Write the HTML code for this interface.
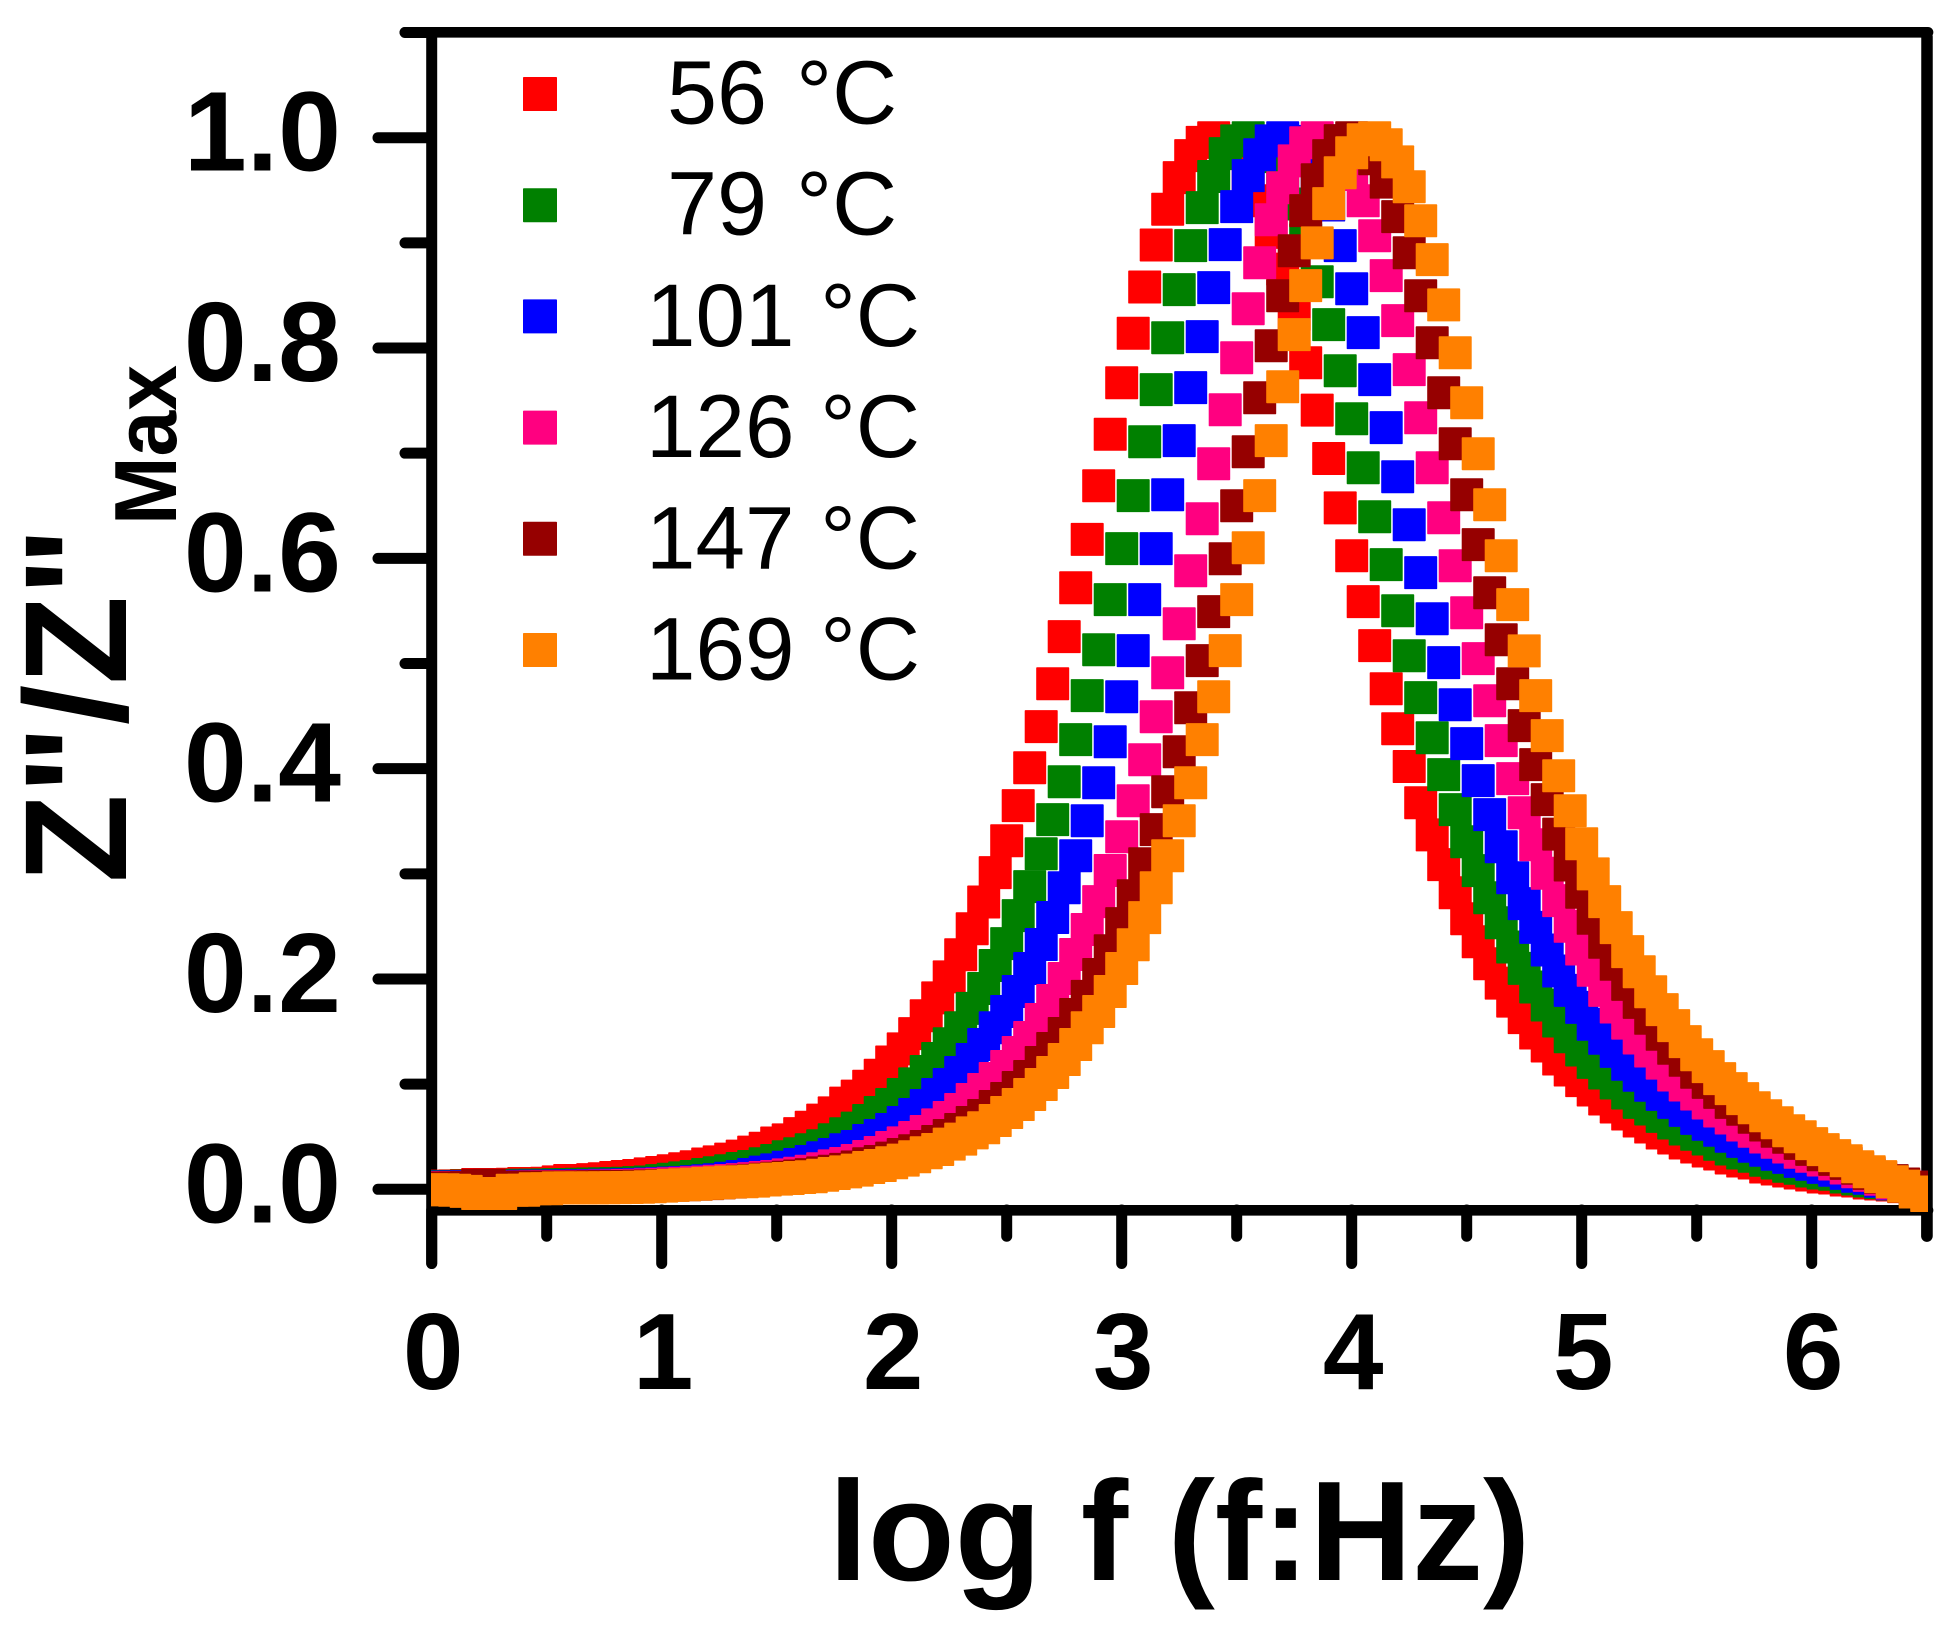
<!DOCTYPE html>
<html lang="en">
<head>
<meta charset="utf-8">
<title>Normalized Z'' versus log f</title>
<style>
html,body{margin:0;padding:0;background:#fff;width:1959px;height:1639px;overflow:hidden}
svg{display:block}
text{font-family:"Liberation Sans",Arial,sans-serif;fill:#000}
.b{font-weight:700}
</style>
</head>
<body>
<svg id="chart" xmlns="http://www.w3.org/2000/svg" width="1959" height="1639" viewBox="0 0 1959 1639">
<defs><clipPath id="plot-clip"><rect x="431" y="0" width="1497" height="1639"/></clipPath></defs>
<rect x="0" y="0" width="1959" height="1639" fill="#fff"/>
<g id="axes"></g>
<g id="series" clip-path="url(#plot-clip)"></g>
<g id="legend"></g>
<text class="b" x="828.5" y="1580" font-size="142">log f (f:Hz)</text>
<text class="b" transform="translate(126,883) rotate(-90)" font-size="145.5">Z"/Z"</text>
<text class="b" transform="translate(176,525) rotate(-90)" font-size="88" textLength="160" lengthAdjust="spacingAndGlyphs">Max</text>
</svg>
<script>
const logF = [
0,.05,.1,.15,.2,.25,.3,.35,.4,.45,.5,.55,.6,.65,.7,.75,.8,.85,.9,.95,
1,1.05,1.1,1.15,1.2,1.25,1.3,1.35,1.4,1.45,1.5,1.55,1.6,1.65,1.7,1.75,1.8,1.85,1.9,1.95,
2,2.05,2.1,2.15,2.2,2.25,2.3,2.35,2.4,2.45,2.5,2.55,2.6,2.65,2.7,2.75,2.8,2.85,2.9,2.95,
3,3.05,3.1,3.15,3.2,3.25,3.3,3.35,3.4,3.45,3.5,3.55,3.6,3.65,3.7,3.75,3.8,3.85,3.9,3.95,
4,4.05,4.1,4.15,4.2,4.25,4.3,4.35,4.4,4.45,4.5,4.55,4.6,4.65,4.7,4.75,4.8,4.85,4.9,4.95,
5,5.05,5.1,5.15,5.2,5.25,5.3,5.35,5.4,5.45,5.5,5.55,5.6,5.65,5.7,5.75,5.8,5.85,5.9,5.95,
6,6.05,6.1,6.15,6.2,6.25,6.3,6.35,6.4,6.45,6.5];
const values56 = [
.0027,.003,.0033,.0036,.0046,.0046,.0046,.0048,.0055,.0055,.0058,.0071,.0084,.0084,.0092,.01,.0112,.0122,.0131,.0147,
.016,.0176,.0195,.0214,.024,.0261,.0287,.0316,.0354,.039,.044,.047,.053,.059,.0658,.0727,.082,.0886,.098,.1085,
.121,.1335,.148,.165,.182,.202,.2231,.2478,.2732,.3011,.3315,.3648,.4009,.44,.4808,.5255,.572,.618,.669,.718,
.767,.814,.858,.898,.932,.962,.983,.9956,1,.997,.985,.965,.94,.91,.875,.832,.786,.741,.695,.648,
.6025,.5588,.517,.476,.438,.402,.3676,.337,.3087,.282,.2573,.2354,.2145,.196,.179,.1632,.1486,.1363,.1239,.1134,
.1033,.0944,.0859,.0783,.0716,.0649,.0592,.0535,.0488,.044,.0402,.0364,.0336,.0298,.0269,.025,.0212,.0193,.0174,.0155,
.0136,.0117,.0107,.0088,.0079,.006,.005,.0041,.0025,.0005,-.002];
const values79 = [
.0025,.0027,.0028,.003,.0032,.0034,.0035,.0037,.0038,.004,.0042,.0044,.0046,.0048,.005,.0053,.0055,.0058,.0064,.007,
.0083,.0096,.0109,.0122,.0141,.0157,.0176,.0198,.0217,.0243,.0274,.0309,.0338,.0376,.0414,.0471,.0528,.0582,.0654,.073,
.0806,.0901,.1003,.112,.1244,.1384,.1536,.172,.191,.2128,.2336,.2602,.2878,.3191,.3515,.3876,.4276,.4694,.5131,.5607,
.6092,.6596,.7109,.7604,.8098,.8555,.8974,.9335,.9631,.9849,.997,1,.996,.982,.962,.937,.903,.863,.8222,.7784,
.7328,.6862,.6396,.594,.5502,.5074,.4675,.4294,.3943,.361,.3305,.303,.2773,.2535,.2304,.2101,.1924,.1752,.16,.1451,
.1325,.1207,.1106,.1011,.0916,.0827,.0764,.0694,.063,.0573,.0523,.0478,.0428,.0383,.0345,.0314,.0276,.025,.0219,.02,
.0174,.0155,.0143,.0117,.0098,.0079,.0063,.005,.003,.001,-.002];
const values101 = [
.002,.0022,.0023,.0024,.0025,.0026,.0027,.0028,.0029,.003,.0031,.0032,.0033,.0034,.0036,.0038,.004,.0043,.0046,.005,
.0055,.006,.0065,.0072,.0081,.0091,.0105,.0122,.0141,.0163,.0185,.021,.0236,.0264,.03,.0331,.0376,.0407,.0464,.0512,
.0569,.0635,.0711,.0797,.0902,.0997,.1111,.1234,.1377,.1536,.1691,.1881,.21,.2328,.2585,.2867,.3172,.3505,.3866,.4256,
.4684,.5122,.5607,.6092,.6605,.7119,.7623,.8108,.8574,.8983,.9344,.9639,.9838,.997,1,.9965,.983,.963,.936,.8974,
.8564,.8146,.7699,.7243,.6776,.632,.5864,.5426,.5008,.4608,.4238,.3886,.3563,.3258,.2963,.2716,.2491,.2276,.2076,.1892,
.173,.1569,.1436,.1312,.1189,.1084,.0989,.0903,.0827,.0751,.0675,.0618,.0561,.0504,.0456,.0409,.0371,.0333,.0304,.0266,
.0238,.0209,.0181,.0152,.0124,.0105,.0076,.0053,.0035,.0015,-.002];
const values126 = [
.0015,.0016,.0017,.0018,.0019,.002,.0021,.0022,.0023,.0024,.0025,.0026,.0027,.0028,.0029,.0031,.0033,.0036,.0039,.0043,
.0048,.0053,.0058,.0063,.0069,.0076,.0084,.0092,.0101,.0112,.0122,.0137,.0153,.0172,.0195,.0223,.0245,.0274,.0312,.035,
.0397,.0442,.0493,.055,.0613,.0683,.0759,.0854,.0949,.1054,.1168,.1301,.1444,.1615,.1795,.2004,.2233,.247,.2736,.3031,
.3353,.3695,.4085,.4494,.4912,.5378,.5882,.6377,.69,.7413,.7908,.8374,.8811,.922,.9524,.978,.9952,1,.997,.985,
.965,.94,.9068,.8688,.826,.7794,.7337,.6862,.6386,.593,.5483,.5046,.4646,.4266,.3905,.3581,.3277,.3005,.2745,.2501,
.2285,.2083,.1892,.1733,.158,.1439,.1315,.12,.1087,.0992,.0906,.0821,.0745,.0678,.0611,.0552,.0497,.0447,.0402,.0352,
.0314,.0279,.0241,.0203,.0167,.0133,.0095,.006,.004,.002,-.002];
const values147 = [
.001,.0012,.0014,.0016,.0038,.0038,.0018,.0019,.0019,.002,.0021,.0021,.0022,.0023,.0024,.0025,.0026,.0027,.0029,.0031,
.0036,.0039,.0043,.0048,.0054,.0061,.0068,.0076,.0085,.0095,.0105,.0115,.0127,.014,.0156,.0172,.019,.0212,.0243,.0264,
.0296,.0331,.0366,.0407,.0455,.0512,.0569,.0635,.0702,.0787,.0864,.0968,.1073,.1206,.1339,.1482,.1662,.1834,.2043,.2269,
.2526,.2792,.3096,.342,.3781,.4161,.4579,.5027,.5493,.5996,.65,.7014,.7527,.8022,.8497,.8925,.9306,.96,.983,.9972,
1,.997,.98,.9577,.925,.8906,.8497,.805,.7575,.709,.6605,.613,.5673,.5226,.4808,.4409,.4038,.3705,.3378,.3084,
.2825,.2577,.2349,.214,.1949,.1778,.1626,.1474,.1341,.1227,.1113,.1017,.0922,.0827,.0761,.0685,.0611,.0552,.0495,.0437,
.038,.0329,.0285,.0247,.02,.0152,.0114,.0082,.005,.002,-.001];
const values169 = [
-.0004,-.0004,-.0009,-.002,-.004,-.004,-.004,-.0009,-.0009,.0005,.0005,.0014,.0014,.0014,.0014,.0015,.0016,.0017,.002,.0024,
.003,.0037,.0043,.0049,.0056,.0062,.0069,.0072,.0078,.0088,.0097,.0103,.0112,.0119,.0134,.015,.0166,.0182,.0207,.0226,
.0252,.0277,.0309,.0347,.0379,.0429,.0477,.0537,.0585,.0654,.073,.0806,.0902,.0997,.1111,.1234,.1377,.1536,.1691,.1881,
.21,.2326,.2583,.2868,.3172,.3505,.3866,.4276,.4684,.5122,.5607,.6101,.6596,.7119,.7632,.8127,.8593,.9,.9373,.9667,
.9857,.998,1,.9933,.977,.9534,.921,.884,.841,.7955,.748,.6995,.651,.6025,.556,.512,.4694,.4314,.3933,.36,
.3286,.3,.2735,.2488,.226,.2069,.1879,.1708,.1556,.1404,.128,.1166,.1052,.0957,.0862,.0776,.07,.0633,.0557,.05,
.0434,.0377,.032,.0272,.0215,.0167,.012,.0072,.003,-.0026,-.0059];
const seriesLabels = ["56 °C","79 °C","101 °C","126 °C","147 °C","169 °C"];
const seriesValues = [values56,values79,values101,values126,values147,values169];
const seriesColors = ["#ff0000","#008000","#0000ff","#ff0080","#960000","#ff8000"];
const xMajorTicks = [0,1,2,3,4,5,6];
const xMinorTicks = [0.5,1.5,2.5,3.5,4.5,5.5,6.5];
const yMajorTicks = [0,0.2,0.4,0.6,0.8,1.0];
const yMinorTicks = [0.1,0.3,0.5,0.7,0.9,1.1];

const NS = "http://www.w3.org/2000/svg";
function xScale(v){ return 431.7 + 230 * v; }
function yScale(v){ return 1189.3 - 1051.6 * v; }
function make(tag, parent, attrs){
  const el = document.createElementNS(NS, tag);
  Object.keys(attrs).forEach(function(k){ el.setAttribute(k, attrs[k]); });
  parent.appendChild(el);
  return el;
}
const axes = document.getElementById("axes");
function axisLine(x1, y1, x2, y2, w, name){
  const el = make("line", axes, {x1:x1, y1:y1, x2:x2, y2:y2, stroke:"#000", "stroke-width":w, "stroke-linecap":"round"});
  
  
}
axisLine(431.7, 37, 431.7, 1263.5, 11, "y-axis-line");
axisLine(1927, 37, 1927, 1236, 11.5, "right-axis-line");
axisLine(405, 32.3, 1928, 32.3, 10.7, "top-axis-line");
axisLine(437, 1210.3, 1928, 1210.3, 10.7, "x-axis-line");
xMajorTicks.forEach(function(v){
  axisLine(xScale(v), 1210, xScale(v), 1263.5, 11, "x-major-tick");
  const t = make("text", axes, {x: xScale(v) + 1.5, y: 1389, "font-size": 109, "font-weight": 700, "text-anchor": "middle"});
  
  
  t.textContent = String(v);
});
xMinorTicks.forEach(function(v){
  axisLine(xScale(v), 1210, xScale(v), 1236.2, 11, "x-minor-tick");
});
yMajorTicks.forEach(function(v){
  axisLine(378, yScale(v), 431, yScale(v), 11, "y-major-tick");
  const t = make("text", axes, {x: 341, y: yScale(v) + 33, "font-size": 113, "font-weight": 700, "text-anchor": "end"});
  
  
  t.textContent = v.toFixed(1);
});
yMinorTicks.forEach(function(v){
  axisLine(405, yScale(v), 431, yScale(v), 11, "y-minor-tick");
});

const seriesLayer = document.getElementById("series");
const MARK = 33;
seriesValues.forEach(function(vals, s){
  const g = make("g", seriesLayer, {fill: seriesColors[s]});
  
  
  vals.forEach(function(v, i){
    const r = make("rect", g, {x: xScale(logF[i]) - MARK / 2, y: yScale(v) - MARK / 2, width: MARK, height: MARK, rx: 0.8});
    
    
  });
});

const legend = document.getElementById("legend");
seriesLabels.forEach(function(label, s){
  const cy = 94 + 111.2 * s;
  const m = make("rect", legend, {x: 523, y: cy - 17, width: 34, height: 34, rx: 0.8, fill: seriesColors[s]});
  
  
  const t = make("text", legend, {x: s < 2 ? 667 : 646, y: cy + 29.5, "font-size": s < 2 ? 90 : 89, "word-spacing": s < 2 ? 4 : 1});
  
  
  t.textContent = label;
});
</script>
</body>
</html>
